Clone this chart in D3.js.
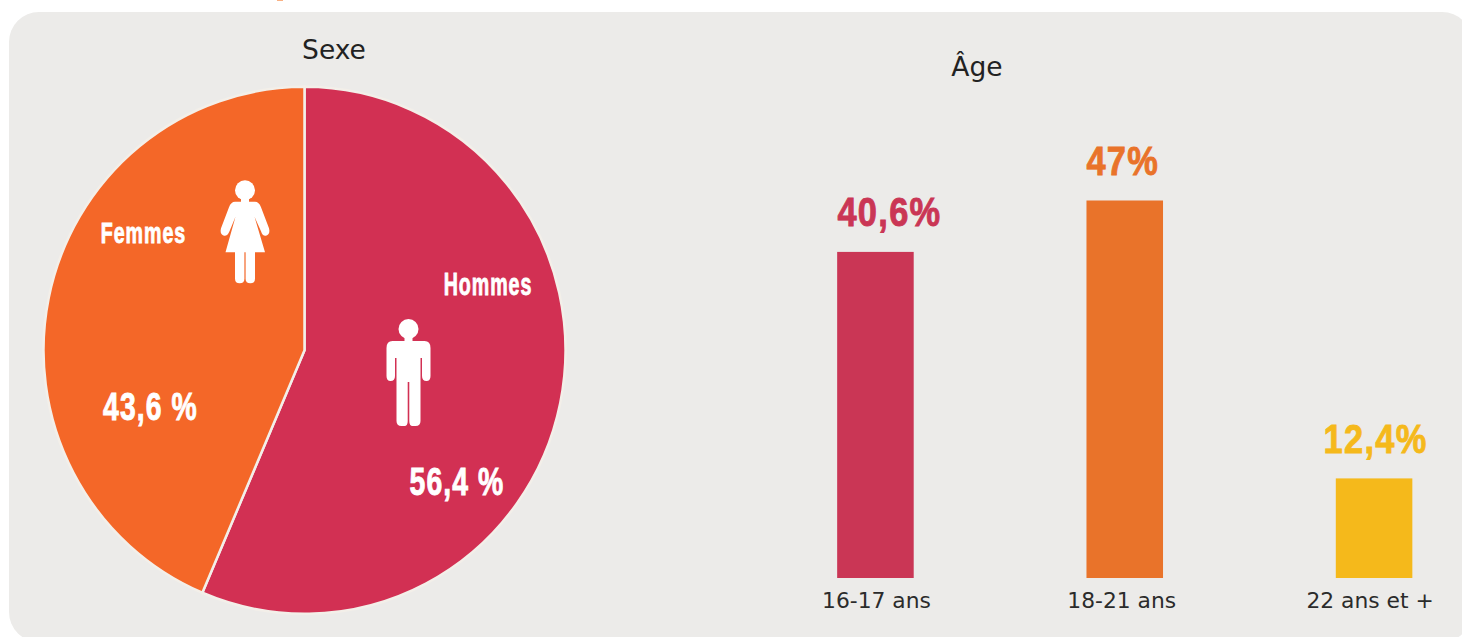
<!DOCTYPE html>
<html>
<head>
<meta charset="utf-8">
<script src="https://cdn.jsdelivr.net/npm/d3@7"></script>
<style>
  html, body { margin: 0; padding: 0; background: #fff; overflow: hidden; }
  .title { font-family: "DejaVu Sans"; font-size: 26.5px; fill: #222; text-anchor: middle; }
  .big { font-family: "Liberation Sans"; font-weight: 700; stroke-width: 0.9; letter-spacing: 1.5px; }
  .tick text { font-family: "DejaVu Sans"; font-size: 21.8px; fill: #2b2b2b; }
</style>
</head>
<body>
<svg id="chart" width="1462" height="637"></svg>
<script>
// Sexe
const sexLabels = ["Hommes", "Femmes"];
const sexValues = [56.4, 43.6];
const sexColors = ["#d23053", "#f46728"];

// Age
const ageLabels = ["16-17 ans", "18-21 ans", "22 ans et +"];
const ageValues = [40.6, 47, 12.4];
const ageTexts = ["40,6%", "47%", "12,4%"];
const ageColors = ["#ca3655", "#e9732a", "#f5b91b"];

// nudges, the labels are not quite centred on the bars in the original
const valueNudge = [14, -2, 1.5];
const tickNudge = [1, -3, -4];

const svg = d3.select("#chart");

// end of the cut off heading above the panel
svg.append("rect").attr("x", 277).attr("y", 0).attr("width", 6).attr("height", 1).attr("fill", "#f9b184");

// panel
svg.append("rect")
  .attr("x", 9).attr("y", 12)
  .attr("width", 1463).attr("height", 630)
  .attr("rx", 30)
  .attr("fill", "#ecebe9");

// Pie, slightly taller than wide like the original
const cx = 304.5, cy = 350.3, radius = 261;
const pie = d3.pie().sort(null).value((d) => d);
const arc = d3.arc().innerRadius(0).outerRadius(radius);
const pieG = svg.append("g").attr("transform", `translate(${cx},${cy}) scale(1,1.0095)`);
pieG.selectAll("path")
  .data(pie(sexValues))
  .join("path")
  .attr("d", arc)
  .attr("fill", (d, i) => sexColors[i])
  .attr("stroke", "#f3efe9")
  .attr("stroke-width", 2.5);

svg.append("text").attr("class", "title").attr("x", 334).attr("y", 59).text("Sexe");
svg.append("text").attr("class", "title").attr("x", 977).attr("y", 76).text("Âge");

// squeezed text, the original face is a bold condensed one
const bigText = (x, y, size, sx, color, str) =>
  svg.append("text")
    .attr("class", "big")
    .attr("transform", `translate(${x},${y}) scale(${sx},1)`)
    .attr("font-size", size)
    .attr("text-anchor", "middle")
    .attr("fill", color)
    .attr("stroke", color)
    .text(str);

const pct = (v) => v.toFixed(1).replace(".", ",") + " %";
bigText(143.5, 243, 30, 0.654, "#fff", sexLabels[1]);
bigText(488, 294.5, 31, 0.633, "#fff", sexLabels[0]);
bigText(150.5, 420, 39, 0.727, "#fff", pct(sexValues[1]));
bigText(457, 495, 39, 0.727, "#fff", pct(sexValues[0]));

// Woman icon
const woman = svg.append("g").attr("transform", "translate(245,190.3)").attr("fill", "#fff");
woman.append("circle").attr("r", 10);
woman.append("path").attr("d", "M-4,8 L4,8 L4,11.5 L10,11.5 Q14,11.5 16,17 L24,38 Q25.5,44 21,45.5 Q17.5,46 16,41 L9.5,26.5 L20,62 L-19.5,62 L-9.5,26.5 L-15.5,41 Q-17.5,46 -21,45.5 Q-25.5,44 -24,38 L-16,17 Q-14,11.5 -10,11.5 L-4,11.5 Z");
woman.append("path").attr("d", "M0.6,61 L10,61 L10,88.5 Q10,93 5.3,93 Q0.6,93 0.6,88.5 Z");
woman.append("path").attr("d", "M-0.6,61 L-10,61 L-10,88.5 Q-10,93 -5.3,93 Q-0.6,93 -0.6,88.5 Z");

// Man icon
const man = svg.append("g").attr("transform", "translate(408.5,329)").attr("fill", "#fff");
man.append("circle").attr("r", 10);
man.append("path").attr("d", "M-4,8 L4,8 L4,12 L16,12 Q22,12 22,19 L22,47 Q22,52 18,52 Q13.5,52 13.5,47 L13.5,29 L12,29 L12,92 Q12,97 7,97 L4,97 Q0.8,97 0.8,92 L0.8,53 L-0.8,53 L-0.8,92 Q-0.8,97 -4,97 L-7,97 Q-12,97 -12,92 L-12,29 L-13.5,29 L-13.5,47 Q-13.5,52 -18,52 Q-22,52 -22,47 L-22,19 Q-22,12 -16,12 L-4,12 Z");

// Bars
const baseline = 578;
const x = d3.scaleBand().domain(ageLabels).range([712.5, 1537]).paddingInner(0.693).paddingOuter(0.5);
const y = d3.scaleLinear().domain([0, 47]).range([baseline, 200.5]);

svg.selectAll(".bar")
  .data(ageValues)
  .join("rect")
  .attr("class", "bar")
  .attr("x", (d, i) => x(ageLabels[i]))
  .attr("y", (d) => y(d))
  .attr("width", x.bandwidth())
  .attr("height", (d) => baseline - y(d))
  .attr("fill", (d, i) => ageColors[i]);

ageValues.forEach((d, i) => {
  bigText(x(ageLabels[i]) + x.bandwidth() / 2 + valueNudge[i], y(d) - 25.5, 40, 0.86, ageColors[i], ageTexts[i]);
});

// x axis, only the labels show
svg.append("g")
  .attr("transform", `translate(0,${baseline})`)
  .call(d3.axisBottom(x).tickSize(0).tickPadding(14.5))
  .call((g) => g.select(".domain").remove())
  .selectAll(".tick text")
  .attr("dx", (d, i) => tickNudge[i]);
</script>
</body>
</html>
